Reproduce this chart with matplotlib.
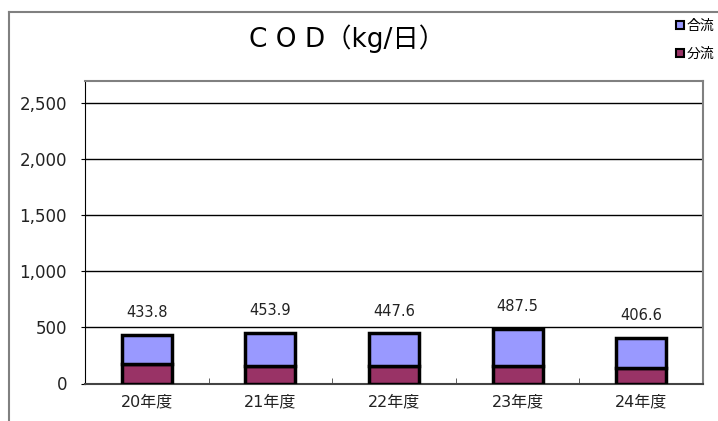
import numpy as np
import matplotlib
matplotlib.use('Agg')
import matplotlib.pyplot as plt
from matplotlib.lines import Line2D
from matplotlib.ticker import FuncFormatter

# wide latin digits first, CJK glyphs fall back to Noto
plt.rcParams['font.family'] = ['DejaVu Sans', 'Noto Sans CJK JP']

years = ['20年度', '21年度', '22年度', '23年度', '24年度']
bunryu = np.array([172, 160, 160, 160, 135])          # 分流
totals = np.array([433.8, 453.9, 447.6, 487.5, 406.6])
goryu = totals - bunryu                                # 合流

c_goryu = '#9999FF'
c_bunryu = '#993366'


def main():
    fig = plt.figure(figsize=(7.18, 4.21), dpi=100)
    ax = fig.add_axes([85 / 718, 1 - 383.5 / 421, 618 / 718, 302.5 / 421])

    x = np.arange(len(years))
    ax.bar(x, bunryu, width=0.405, color=c_bunryu, edgecolor='black',
           linewidth=2.5, zorder=3)
    ax.bar(x, goryu, bottom=bunryu, width=0.405, color=c_goryu,
           edgecolor='black', linewidth=2.5, zorder=3)

    for xi, t in zip(x, totals):
        ax.annotate('{:.1f}'.format(t), (xi, t), xytext=(0, 16),
                    textcoords='offset points', ha='center', va='center',
                    fontsize=10.5, color='#222222')

    ax.set_xlim(-0.5, len(years) - 0.5)
    ax.set_ylim(0, 2700)
    ax.set_yticks(np.arange(0, 2501, 500))
    ax.yaxis.set_major_formatter(FuncFormatter(lambda v, p: '{:,.0f}'.format(v)))
    ax.yaxis.grid(True, color='black', linewidth=1.0, zorder=0)
    ax.tick_params(axis='y', length=3, labelsize=12, pad=10, labelcolor='#222222')

    ax.set_xticks(x)
    ax.set_xticklabels(years, fontsize=11.5, color='#222222')
    ax.set_xticks(np.arange(0.5, len(years) - 0.5, 1), minor=True)
    ax.tick_params(axis='x', which='major', length=0, pad=8)
    ax.tick_params(axis='x', which='minor', direction='in', length=4, color='#444444')

    ax.spines['top'].set_color('#808080')
    ax.spines['right'].set_color('#808080')
    ax.spines['top'].set_linewidth(1.5)
    ax.spines['right'].set_linewidth(1.5)
    ax.spines['left'].set_color('black')
    ax.spines['bottom'].set_color('#444444')
    ax.spines['bottom'].set_linewidth(1.5)

    fig.text(347 / 718, 1 - 39 / 421, 'C O D（kg/日）', ha='center', va='center',
             fontsize=19)

    # legend
    handles = [Line2D([], [], marker='s', linestyle='none', markersize=6,
                      markerfacecolor=c_goryu, markeredgecolor='black',
                      markeredgewidth=1.5),
               Line2D([], [], marker='s', linestyle='none', markersize=6,
                      markerfacecolor=c_bunryu, markeredgecolor='black',
                      markeredgewidth=1.5)]
    fig.legend(handles, ['合流', '分流'], loc='center', bbox_to_anchor=(695 / 718, 1 - 40 / 421),
               frameon=False, fontsize=10, handlelength=0.6, handletextpad=0.2,
               labelspacing=1.0, borderpad=0)

    # outer frame
    fig.add_artist(Line2D([9 / 718, 9 / 718], [0, 1 - 12 / 421], transform=fig.transFigure,
                          color='#808080', linewidth=1.5))
    fig.add_artist(Line2D([9 / 718, 1], [1 - 12 / 421, 1 - 12 / 421], transform=fig.transFigure,
                          color='#808080', linewidth=1.5))

    fig.savefig('out.png', dpi=100)


if __name__ == '__main__':
    main()
